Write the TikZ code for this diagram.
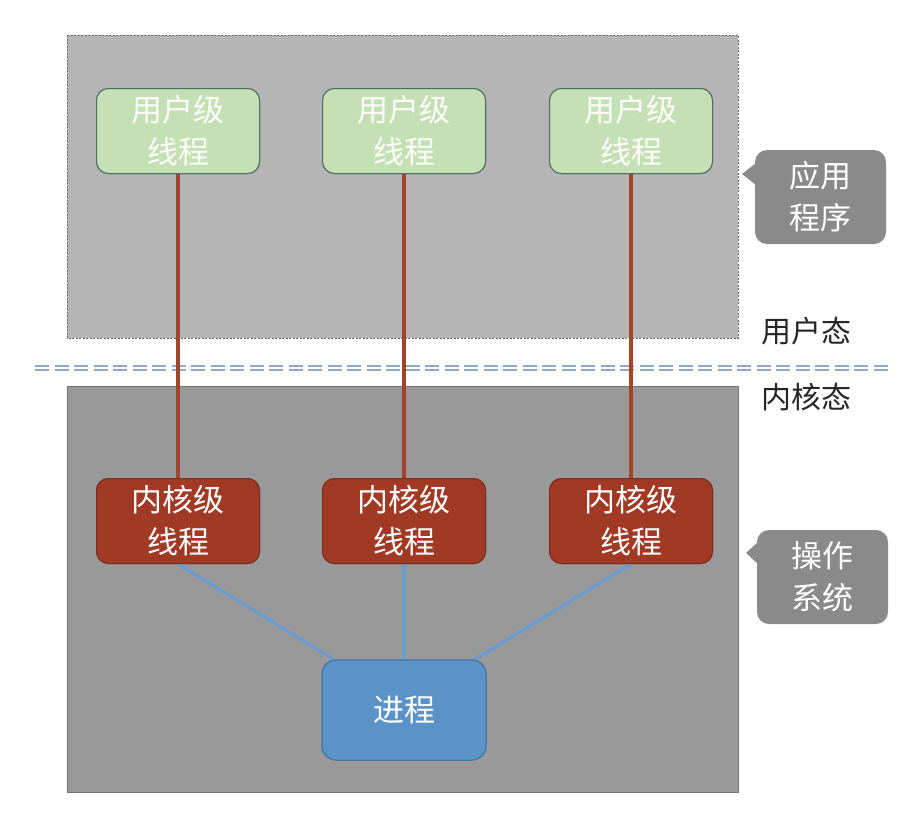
\documentclass[tikz,border=0pt]{standalone}
\usepackage{fontspec}
\newfontfamily\cjk{Noto Sans CJK SC}
\definecolor{topbg}{HTML}{B4B5B4}
\definecolor{botbg}{HTML}{999999}
\definecolor{ugreen}{HTML}{C5E0B4}
\definecolor{ugreenb}{HTML}{4E6E62}
\definecolor{kred}{HTML}{A13A25}
\definecolor{kredb}{HTML}{7A2C1E}
\definecolor{pblue}{HTML}{5B93C8}
\definecolor{pblueb}{HTML}{41709E}
\definecolor{redline}{HTML}{A0442C}
\definecolor{blueline}{HTML}{6A9BD0}
\definecolor{callgray}{HTML}{8A8A8A}
\definecolor{sepblue}{HTML}{8FAAC6}
\tikzset{
  txt/.style={font=\cjk\fontsize{31}{42}\selectfont, align=center, text=white},
  uthread/.style={txt, rounded corners=12pt, fill=ugreen, draw=ugreenb, line width=1pt, minimum width=163pt, minimum height=85pt, inner sep=0pt, text=white!96!ugreen},
  kthread/.style={txt, rounded corners=12pt, fill=kred, draw=kredb, line width=1pt, minimum width=163pt, minimum height=85pt, inner sep=0pt},
  proc/.style={txt, rounded corners=14pt, fill=pblue, draw=pblueb, line width=1pt, minimum width=164pt, minimum height=100pt, inner sep=0pt},
  rline/.style={draw=redline, line width=3.2pt},
  bline/.style={draw=blueline, line width=3.2pt},
  lbl/.style={font=\cjk\fontsize{30}{36}\selectfont, text=black!85},
}
\begin{document}
\begin{tikzpicture}[x=1pt,y=-1pt]
\useasboundingbox[fill=white] (0,0) rectangle (924,828);
% regions
\fill[topbg] (67,35) rectangle (738,338);
\draw[black!60, dash pattern=on 2pt off 1.5pt, line width=0.8pt] (67,35) rectangle (738,338);
\fill[botbg] (67,386) rectangle (738,792);
\draw[black!55, line width=0.8pt] (67,386) rectangle (738,792);
% separator
\draw[sepblue, line width=6pt, dash pattern=on 14pt off 5.5pt] (35,368) -- (892,368);
\draw[white, line width=1.8pt, dash pattern=on 14pt off 5.5pt] (35,368) -- (892,368);
% labels
\node[lbl] (ustate) at (806,331) {用户态};
\node[lbl] (kstate) at (806,397) {内核态};
% callouts
\fill[callgray, rounded corners=12pt] (755,150) rectangle (886,244);
\fill[callgray] (756,163) -- (742,174) -- (756,185) -- cycle;
\node[txt] (app) at (820,197) {应用\\程序};
\fill[callgray, rounded corners=12pt] (757,530) rectangle (888,624);
\fill[callgray] (758,542) -- (746,553) -- (758,564) -- cycle;
\node[txt] (os) at (822,577) {操作\\系统};
% threads
\node[uthread] (u1) at (178,131) {用户级\\线程};
\node[uthread] (u2) at (404,131) {用户级\\线程};
\node[uthread] (u3) at (631,131) {用户级\\线程};
\node[kthread] (k1) at (178,521) {内核级\\线程};
\node[kthread] (k2) at (404,521) {内核级\\线程};
\node[kthread] (k3) at (631,521) {内核级\\线程};
\node[proc] (p) at (404,710) {进程};
\coordinate (pl) at (335,660);
\coordinate (pr) at (474,660);
% connectors
\path[rline] (u1.south) -- (k1.north);
\path[rline] (u2.south) -- (k2.north);
\path[rline] (u3.south) -- (k3.north);
\path[bline] (k1.south) -- (pl);
\path[bline] (k2.south) -- (p.north);
\path[bline] (k3.south) -- (pr);
% redraw nodes on top
\node[uthread] at (u1) {用户级\\线程};
\node[uthread] at (u2) {用户级\\线程};
\node[uthread] at (u3) {用户级\\线程};
\node[kthread] at (k1) {内核级\\线程};
\node[kthread] at (k2) {内核级\\线程};
\node[kthread] at (k3) {内核级\\线程};
\node[proc] at (p) {进程};
\end{tikzpicture}
\end{document}
